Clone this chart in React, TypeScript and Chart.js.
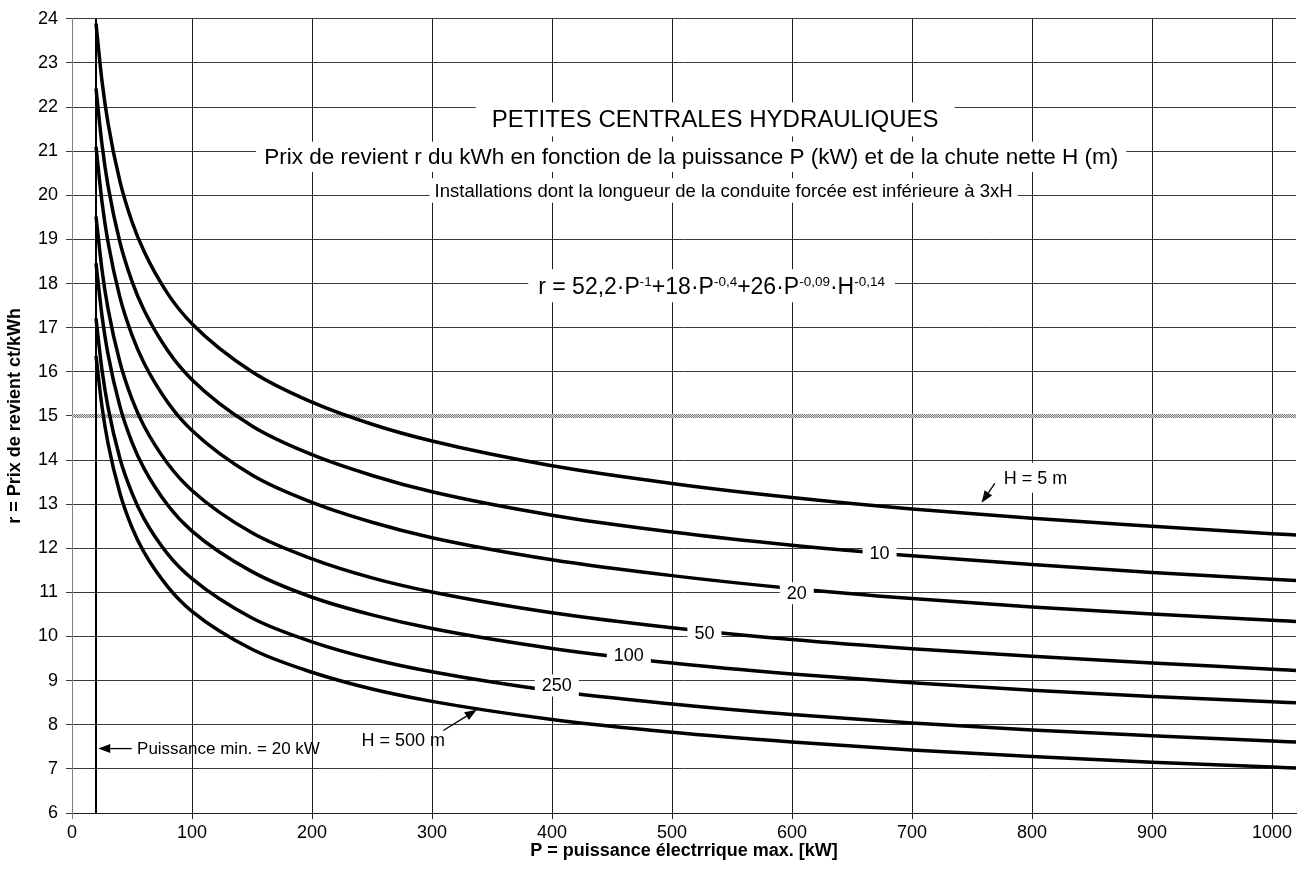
import React, { useEffect, useRef } from 'react';
import { Chart, registerables } from 'chart.js';

Chart.register(...registerables);

// ---- data ----
const P_KW = [20, 25, 30, 40, 50, 60, 80, 100, 150, 200, 250, 300, 400, 500, 600, 700, 800, 900, 1000, 1020];
const R_H5 = [23.89, 22.59, 21.64, 20.31, 19.4, 18.73, 17.76, 17.09, 16.0, 15.31, 14.81, 14.43, 13.87, 13.47, 13.15, 12.89, 12.68, 12.5, 12.33, 12.3];
const R_H10 = [22.42, 21.15, 20.22, 18.93, 18.05, 17.4, 16.47, 15.82, 14.77, 14.12, 13.65, 13.28, 12.75, 12.37, 12.07, 11.83, 11.63, 11.45, 11.3, 11.27];
const R_H20 = [21.1, 19.85, 18.94, 17.68, 16.83, 16.2, 15.3, 14.67, 13.66, 13.04, 12.59, 12.24, 11.74, 11.38, 11.09, 10.86, 10.67, 10.51, 10.37, 10.34];
const R_H50 = [19.52, 18.31, 17.43, 16.21, 15.38, 14.77, 13.91, 13.31, 12.35, 11.76, 11.33, 11.01, 10.54, 10.2, 9.93, 9.72, 9.55, 9.4, 9.26, 9.23];
const R_H100 = [18.46, 17.27, 16.4, 15.21, 14.4, 13.81, 12.97, 12.39, 11.47, 10.89, 10.49, 10.18, 9.73, 9.4, 9.15, 8.95, 8.78, 8.64, 8.52, 8.5];
const R_H250 = [17.21, 16.04, 15.2, 14.03, 13.25, 12.67, 11.86, 11.31, 10.42, 9.88, 9.49, 9.2, 8.77, 8.47, 8.23, 8.04, 7.88, 7.75, 7.63, 7.61];
const R_H500 = [16.36, 15.21, 14.38, 13.24, 12.47, 11.91, 11.12, 10.57, 9.71, 9.19, 8.81, 8.53, 8.12, 7.83, 7.61, 7.43, 7.28, 7.15, 7.04, 7.02];
const SERIES = [R_H5, R_H10, R_H20, R_H50, R_H100, R_H250, R_H500];
const H_VALUES = [5, 10, 20, 50, 100, 250, 500];

const X_TICKS = [0, 100, 200, 300, 400, 500, 600, 700, 800, 900, 1000];
const P_MIN = 20;
const R_REF = 15;
const X_MIN = 0;
const X_MAX = 1020;
const Y_MIN = 6;
const Y_MAX = 24;

const TITLE = 'PETITES CENTRALES HYDRAULIQUES';
const SUBTITLE = 'Prix de revient r du kWh en fonction de la puissance P (kW) et de la chute nette H (m)';
const NOTE = 'Installations dont la longueur de la conduite forcée est inférieure à 3xH';
const FORMULA_PARTS: [string, boolean][] = [
  ['r = 52,2·P', false], ['-1', true], ['+18·P', false], ['-0,4', true],
  ['+26·P', false], ['-0,09', true], ['·H', false], ['-0,14', true],
];
const CURVE_LABELS = ['10', '20', '50', '100', '250'];
const X_TITLE = 'P = puissance électrrique max. [kW]';
const Y_TITLE = 'r = Prix de revient ct/kWh';
const PMIN_LABEL = 'Puissance min. = 20 kW';
const H5_LABEL = 'H = 5 m';
const H500_LABEL = 'H = 500 m';

const FAMILY = '"Liberation Sans", Arial, Helvetica, sans-serif';
const f = (size: number, bold = false) => `${bold ? 'bold ' : ''}${size}px ${FAMILY}`;

// annotation placement (data coordinates)
const CURVE_LABEL_POS = [
  [673, 11.9], [604, 10.98], [527, 10.08], [464, 9.59], [404, 8.89],
];

function arrow(ctx: CanvasRenderingContext2D, x1: number, y1: number, x2: number, y2: number) {
  const ang = Math.atan2(y2 - y1, x2 - x1);
  const len = 12, hw = 4.5;
  const bx = x2 - len * Math.cos(ang), by = y2 - len * Math.sin(ang);
  ctx.strokeStyle = '#000';
  ctx.lineWidth = 1.3;
  ctx.beginPath();
  ctx.moveTo(x1, y1);
  ctx.lineTo(bx, by);
  ctx.stroke();
  ctx.fillStyle = '#000';
  ctx.beginPath();
  ctx.moveTo(x2, y2);
  ctx.lineTo(bx + hw * Math.sin(ang), by - hw * Math.cos(ang));
  ctx.lineTo(bx - hw * Math.sin(ang), by + hw * Math.cos(ang));
  ctx.closePath();
  ctx.fill();
}

const annotPlugin = {
  id: 'annot',
  afterDatasetsDraw(chart: any) {
    const { ctx } = chart;
    const xs = chart.scales.x, ys = chart.scales.y;
    const px = (v: number) => xs.getPixelForValue(v);
    const py = (v: number) => ys.getPixelForValue(v);
    ctx.save();
    ctx.textAlign = 'center';
    ctx.textBaseline = 'middle';

    const boxText = (text: string, cx: number, cy: number, size: number, padX: number, padY: number, box = true) => {
      ctx.font = f(size);
      const w = ctx.measureText(text).width;
      if (box) {
        ctx.fillStyle = '#fff';
        ctx.fillRect(cx - w / 2 - padX, cy - size / 2 - padY, w + 2 * padX, size + 2 * padY);
      }
      ctx.fillStyle = '#000';
      ctx.textAlign = 'center';
      ctx.fillText(text, cx, cy + 1);
    };

    // titles
    boxText(TITLE, px(536), py(21.72), 24, 16, 5);
    boxText(SUBTITLE, px(516), py(20.87), 22.5, 8, 4);
    boxText(NOTE, px(543), py(20.11), 18.5, 5, 3);

    // formula with superscripts
    {
      const main = 23, sup = 13.5;
      let total = 0;
      const widths = FORMULA_PARTS.map(([t, s]) => {
        ctx.font = f(s ? sup : main);
        const w = ctx.measureText(t).width;
        total += w;
        return w;
      });
      const cx = px(533), cy = py(17.95);
      ctx.fillStyle = '#fff';
      ctx.fillRect(cx - total / 2 - 10, cy - main / 2 - 5, total + 20, main + 10);
      ctx.fillStyle = '#000';
      ctx.textAlign = 'left';
      ctx.textBaseline = 'alphabetic';
      let x = cx - total / 2;
      const base = cy + main * 0.36;
      FORMULA_PARTS.forEach(([t, s], i) => {
        ctx.font = f(s ? sup : main);
        ctx.fillText(t, x, s ? base - 8.5 : base);
        x += widths[i];
      });
      ctx.textBaseline = 'middle';
    }

    // curve labels
    CURVE_LABELS.forEach((t, i) => {
      const [lx, ly] = CURVE_LABEL_POS[i];
      boxText(t, px(lx), py(ly), 18, 7, 2);
    });

    // H = 5 m
    boxText(H5_LABEL, px(803), py(13.6), 18, 4, 6);
    arrow(ctx, px(769), py(13.47), px(758), py(13.03));

    // H = 500 m
    boxText(H500_LABEL, px(276), py(7.65), 18, 0, 0, false);
    arrow(ctx, px(309.4), py(7.87), px(337.3), py(8.34));

    // Puissance min
    ctx.font = f(17);
    ctx.fillStyle = '#000';
    ctx.textAlign = 'left';
    ctx.fillText(PMIN_LABEL, px(54.2), py(7.46) + 1);
    arrow(ctx, px(49.75), py(7.46), px(21.9), py(7.46));

    ctx.restore();
  },
};

export default function App() {
  const ref = useRef<HTMLCanvasElement>(null);

  useEffect(() => {
    document.body.style.margin = '0';
    const canvas = ref.current!;
    const c2d = canvas.getContext('2d')!;

    const pc = document.createElement('canvas');
    pc.width = 2;
    pc.height = 2;
    const pctx = pc.getContext('2d')!;
    pctx.fillStyle = '#dcdcdc';
    pctx.fillRect(0, 0, 2, 2);
    pctx.fillStyle = '#7a7a7a';
    pctx.fillRect(0, 0, 1, 1);
    pctx.fillRect(1, 1, 1, 1);
    const pattern = c2d.createPattern(pc, 'repeat')!;

    const curveSets = SERIES.map((vals, i) => ({
      label: `H = ${H_VALUES[i]} m`,
      data: P_KW.map((p, j) => ({ x: p, y: vals[j] })),
      borderColor: '#000',
      borderWidth: 3.5,
      pointRadius: 0,
      cubicInterpolationMode: 'monotone' as const,
      fill: false,
    }));

    const chart = new Chart(canvas, {
      type: 'line',
      data: {
        datasets: [
          ...curveSets,
          {
            label: 'Pmin',
            data: [{ x: P_MIN, y: Y_MIN }, { x: P_MIN, y: Y_MAX }],
            borderColor: '#000',
            borderWidth: 2,
            pointRadius: 0,
          },
          {
            label: 'ref',
            data: [{ x: X_MIN, y: R_REF }, { x: X_MAX, y: R_REF }],
            borderColor: pattern as any,
            borderWidth: 4,
            pointRadius: 0,
          },
        ] as any,
      },
      options: {
        animation: false,
        responsive: false,
        maintainAspectRatio: false,
        layout: { padding: { top: 15, right: 6, left: 0, bottom: 0 } },
        plugins: {
          legend: { display: false },
          tooltip: { enabled: false },
        },
        scales: {
          x: {
            type: 'linear',
            min: X_MIN,
            max: X_MAX,
            afterBuildTicks: (s: any) => {
              s.ticks = X_TICKS.map((v) => ({ value: v }));
            },
            afterFit: (s: any) => {
              s.height = 70;
            },
            ticks: {
              autoSkip: false,
              maxRotation: 0,
              padding: 3,
              color: '#000',
              font: { family: FAMILY, size: 18 },
              callback: (v: any) => String(v),
            },
            grid: {
              color: (c: any) => (c.tick && c.tick.value === 0 ? '#808080' : '#1e1e1e'),
              lineWidth: 1,
              tickLength: 6,
            },
            border: { color: '#1e1e1e', width: 1 },
            title: {
              display: true,
              text: X_TITLE,
              color: '#000',
              font: { family: FAMILY, size: 18, weight: 'bold' },
              padding: { top: 4, bottom: 21 },
            },
          },
          y: {
            type: 'linear',
            min: Y_MIN,
            max: Y_MAX,
            afterFit: (s: any) => {
              s.width = 72;
            },
            ticks: {
              stepSize: 1,
              padding: 8,
              color: '#000',
              font: { family: FAMILY, size: 18 },
              callback: (v: any) => String(v),
            },
            grid: {
              color: '#3a3a3a',
              lineWidth: 1,
              tickLength: 6,
            },
            border: { color: '#808080', width: 1 },
            title: {
              display: true,
              text: Y_TITLE,
              color: '#000',
              font: { family: FAMILY, size: 18, weight: 'bold' },
              padding: { top: 4, bottom: 0 },
            },
          },
        },
      } as any,
      plugins: [annotPlugin],
    });

    return () => chart.destroy();
  }, []);

  return (
    <div style={{ width: 1302, height: 883, background: '#fff' }}>
      <canvas ref={ref} width={1302} height={883} style={{ display: 'block' }} />
    </div>
  );
}
